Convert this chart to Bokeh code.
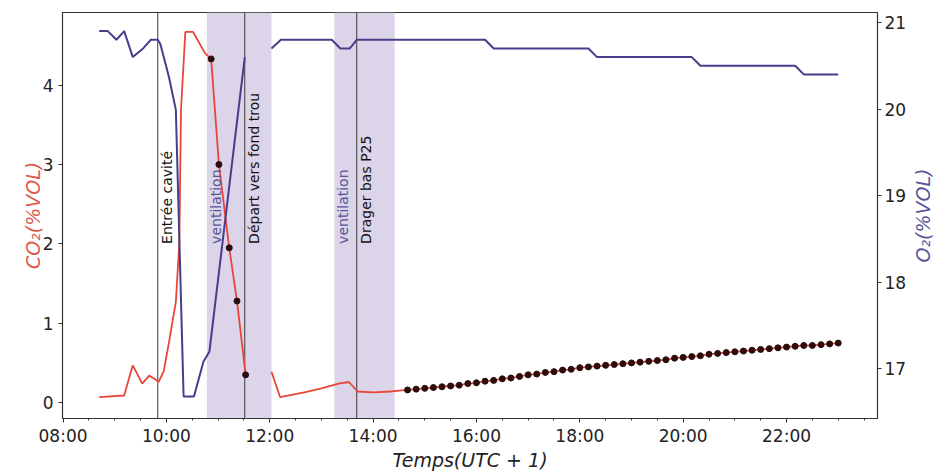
import math
from bokeh.plotting import figure
from bokeh.layouts import row
from bokeh.models import Range1d, LinearAxis, FixedTicker, BoxAnnotation, Span, Label, Title
from bokeh.embed import file_html
from bokeh.resources import INLINE

# ---------------- data ----------------
# CO2 (%VOL), first segment before the data gap
co2_seg1_time = ["08:42", "09:11", "09:21", "09:32", "09:40", "09:46", "09:51", "09:57",
                 "10:03", "10:11", "10:15", "10:17", "10:22", "10:31", "10:45"]
co2_seg1_val = [0.07, 0.09, 0.47, 0.24, 0.34, 0.30, 0.26, 0.40,
                0.76, 1.27, 2.00, 3.70, 4.67, 4.67, 4.40]
# CO2 points marked with dots (first series)
co2_dots1_time = ["10:52", "11:01", "11:13", "11:22", "11:32"]
co2_dots1_val = [4.33, 3.00, 1.95, 1.28, 0.35]
# CO2 second segment after the gap
co2_seg2_time = ["12:02", "12:12", "12:40", "13:00", "13:20", "13:32", "13:42", "14:00",
                 "14:20", "14:30"]
co2_seg2_val = [0.39, 0.07, 0.13, 0.18, 0.24, 0.26, 0.14, 0.13, 0.14, 0.15]
# CO2 points marked with dots (second series, every 10 minutes)
co2_dots2_time = ["14:40", "14:50", "15:00", "15:10", "15:20", "15:30", "15:40", "15:50",
                  "16:00", "16:10", "16:20", "16:30", "16:40", "16:50", "17:00", "17:10",
                  "17:20", "17:30", "17:40", "17:50", "18:00", "18:10", "18:20", "18:30",
                  "18:40", "18:50", "19:00", "19:10", "19:20", "19:30", "19:40", "19:50",
                  "20:00", "20:10", "20:20", "20:30", "20:40", "20:50", "21:00", "21:10",
                  "21:20", "21:30", "21:40", "21:50", "22:00", "22:10", "22:20", "22:30",
                  "22:40", "22:50", "23:00"]
co2_dots2_val = [0.16, 0.17, 0.18, 0.19, 0.20, 0.21, 0.22, 0.24,
                 0.25, 0.27, 0.28, 0.30, 0.31, 0.33, 0.35, 0.36,
                 0.38, 0.39, 0.41, 0.42, 0.44, 0.45, 0.46, 0.47,
                 0.48, 0.49, 0.50, 0.51, 0.52, 0.53, 0.54, 0.56,
                 0.57, 0.58, 0.59, 0.61, 0.62, 0.63, 0.64, 0.65,
                 0.66, 0.67, 0.68, 0.69, 0.70, 0.71, 0.72, 0.72,
                 0.73, 0.74, 0.75]

# O2 (%VOL)
o2_seg1_time = ["08:42", "08:52", "09:02", "09:11", "09:21", "09:33", "09:42", "09:50",
                "09:53", "10:03", "10:11", "10:20", "10:32", "10:43", "10:50", "11:31"]
o2_seg1_val = [20.9, 20.9, 20.8, 20.9, 20.6, 20.7, 20.8, 20.8,
               20.75, 20.37, 19.99, 16.68, 16.68, 17.08, 17.2, 20.6]
o2_seg2_time = ["12:02", "12:13", "13:12", "13:22", "13:33", "13:41", "16:10", "16:20",
                "18:10", "18:20", "20:10", "20:20", "22:10", "22:20", "23:00"]
o2_seg2_val = [20.7, 20.8, 20.8, 20.7, 20.7, 20.8, 20.8, 20.7,
               20.7, 20.6, 20.6, 20.5, 20.5, 20.4, 20.4]

# events and shaded periods
event_times = ["09:50", "11:31", "13:41"]
event_labels = ["Entrée cavité", "Départ vers fond trou", "Drager bas P25"]
vent_start = ["10:47", "13:15"]
vent_end = ["12:02", "14:25"]
vent_label = "ventilation"

x_tick_labels = ["08:00", "10:00", "12:00", "14:00", "16:00", "18:00", "20:00", "22:00"]
co2_ticks = [0, 1, 2, 3, 4]
o2_ticks = [17, 18, 19, 20, 21]
x_title = "Temps(UTC + 1)"
co2_title = "CO₂(%VOL)"
o2_title = "O₂(%VOL)"


def hrs(s):
    h, m = s.split(":")
    return int(h) + int(m) / 60.0


def hl(lst):
    return [hrs(s) for s in lst]


# ---------------- styling ----------------
RED = "#e8463a"
BLUE = "#483d8b"
SHADE = "#dcd4e8"
FONT = "DejaVu Sans"
AX = "#333333"

X0, X1 = 7.99, 23.76
Y0, Y1 = -0.2, 4.915
O2_LO, O2_HI = 16.425, 21.115

p = figure(width=909, height=473, output_backend="svg", toolbar_location=None,
           x_range=Range1d(X0, X1), y_range=Range1d(Y0, Y1),
           min_border_left=62, min_border_right=32, min_border_top=12, min_border_bottom=54)
p.extra_y_ranges = {"o2": Range1d(O2_LO, O2_HI)}
p.grid.visible = False
p.outline_line_color = AX
p.outline_line_width = 1.2
p.background_fill_color = "white"
p.border_fill_color = "white"

# shaded ventilation periods
for s, e in zip(vent_start, vent_end):
    p.add_layout(BoxAnnotation(left=hrs(s), right=hrs(e), fill_color=SHADE, fill_alpha=1.0,
                               line_color=None, level="underlay"))

# event lines
for t in event_times:
    p.add_layout(Span(location=hrs(t), dimension="height", line_color="#3a3a3a",
                      line_width=1, level="underlay"))

# CO2 lines
p.line(hl(co2_seg1_time + co2_dots1_time), co2_seg1_val + co2_dots1_val,
       line_color=RED, line_width=1.8)
p.line(hl(co2_seg2_time + co2_dots2_time), co2_seg2_val + co2_dots2_val,
       line_color=RED, line_width=1.8)

# O2 lines
p.line(hl(o2_seg1_time), o2_seg1_val, line_color=BLUE, line_width=2, y_range_name="o2")
p.line(hl(o2_seg2_time), o2_seg2_val, line_color=BLUE, line_width=2, y_range_name="o2")

# dots
p.scatter(hl(co2_dots1_time + co2_dots2_time), co2_dots1_val + co2_dots2_val,
          size=6, fill_color="#2a0c0c", line_color="#2a0c0c")

# text labels
for t, lab in zip(event_times, event_labels):
    p.add_layout(Label(x=hrs(t), y=2.0, text=lab, angle=math.pi / 2, text_align="left",
                       text_baseline="top", text_font=FONT, text_font_size="14px",
                       text_color="#111111", x_offset=1))
for s in vent_start:
    p.add_layout(Label(x=hrs(s), y=2.0, text=vent_label, angle=math.pi / 2, text_align="left",
                       text_baseline="top", text_font=FONT, text_font_size="14px",
                       text_color="#56569a", x_offset=1))

# x axis
xa = p.xaxis[0]
xa.ticker = FixedTicker(ticks=[hrs(s) for s in x_tick_labels],
                        minor_ticks=[8 + 0.5 * i for i in range(32)])
xa.major_label_overrides = {hrs(s): s for s in x_tick_labels}
xa.axis_label = x_title
xa.axis_label_text_color = "#222222"

# left axis
ya = p.yaxis[0]
ya.ticker = FixedTicker(ticks=co2_ticks)
ya.axis_label = co2_title
ya.axis_label_text_color = "#e0584a"

# right axis (ticks only)
ra = LinearAxis(y_range_name="o2", ticker=FixedTicker(ticks=o2_ticks))
p.add_layout(ra, "right")

for ax in [xa, ya, ra]:
    ax.axis_line_color = AX
    ax.major_tick_line_color = AX
    ax.major_tick_out = 4
    ax.major_tick_in = 0
    ax.minor_tick_out = 2
    ax.minor_tick_in = 0
    ax.major_label_text_font = FONT
    ax.major_label_text_font_size = "17px"
    ax.major_label_text_color = "#222222"
    ax.axis_label_text_font = FONT
    ax.axis_label_text_font_size = "19px"
    ax.axis_label_text_font_style = "italic"

ya.minor_tick_line_color = None
ra.minor_tick_line_color = None
xa.minor_tick_line_color = AX
xa.major_label_standoff = 3
xa.axis_label_standoff = 0
ya.major_label_standoff = 5
ya.axis_label_standoff = -4
ra.major_label_standoff = 3

# right-hand title strip: a narrow companion figure whose left-side title reads
# bottom-to-top, like the O2 axis title of the reference
p2 = figure(width=26, height=473, output_backend="svg", toolbar_location=None,
            x_axis_location=None, y_axis_location=None,
            min_border_left=0, min_border_right=0, min_border_top=12, min_border_bottom=51)
p2.grid.visible = False
p2.outline_line_color = None
p2.background_fill_color = "white"
p2.border_fill_color = "white"
p2.add_layout(Title(text=o2_title, align="center", text_font=FONT, text_font_size="19px",
                    text_font_style="italic", text_color="#55559a", standoff=0), "left")

layout = row(p, p2, spacing=0)

open("out.html", "w").write(file_html(layout, INLINE))
